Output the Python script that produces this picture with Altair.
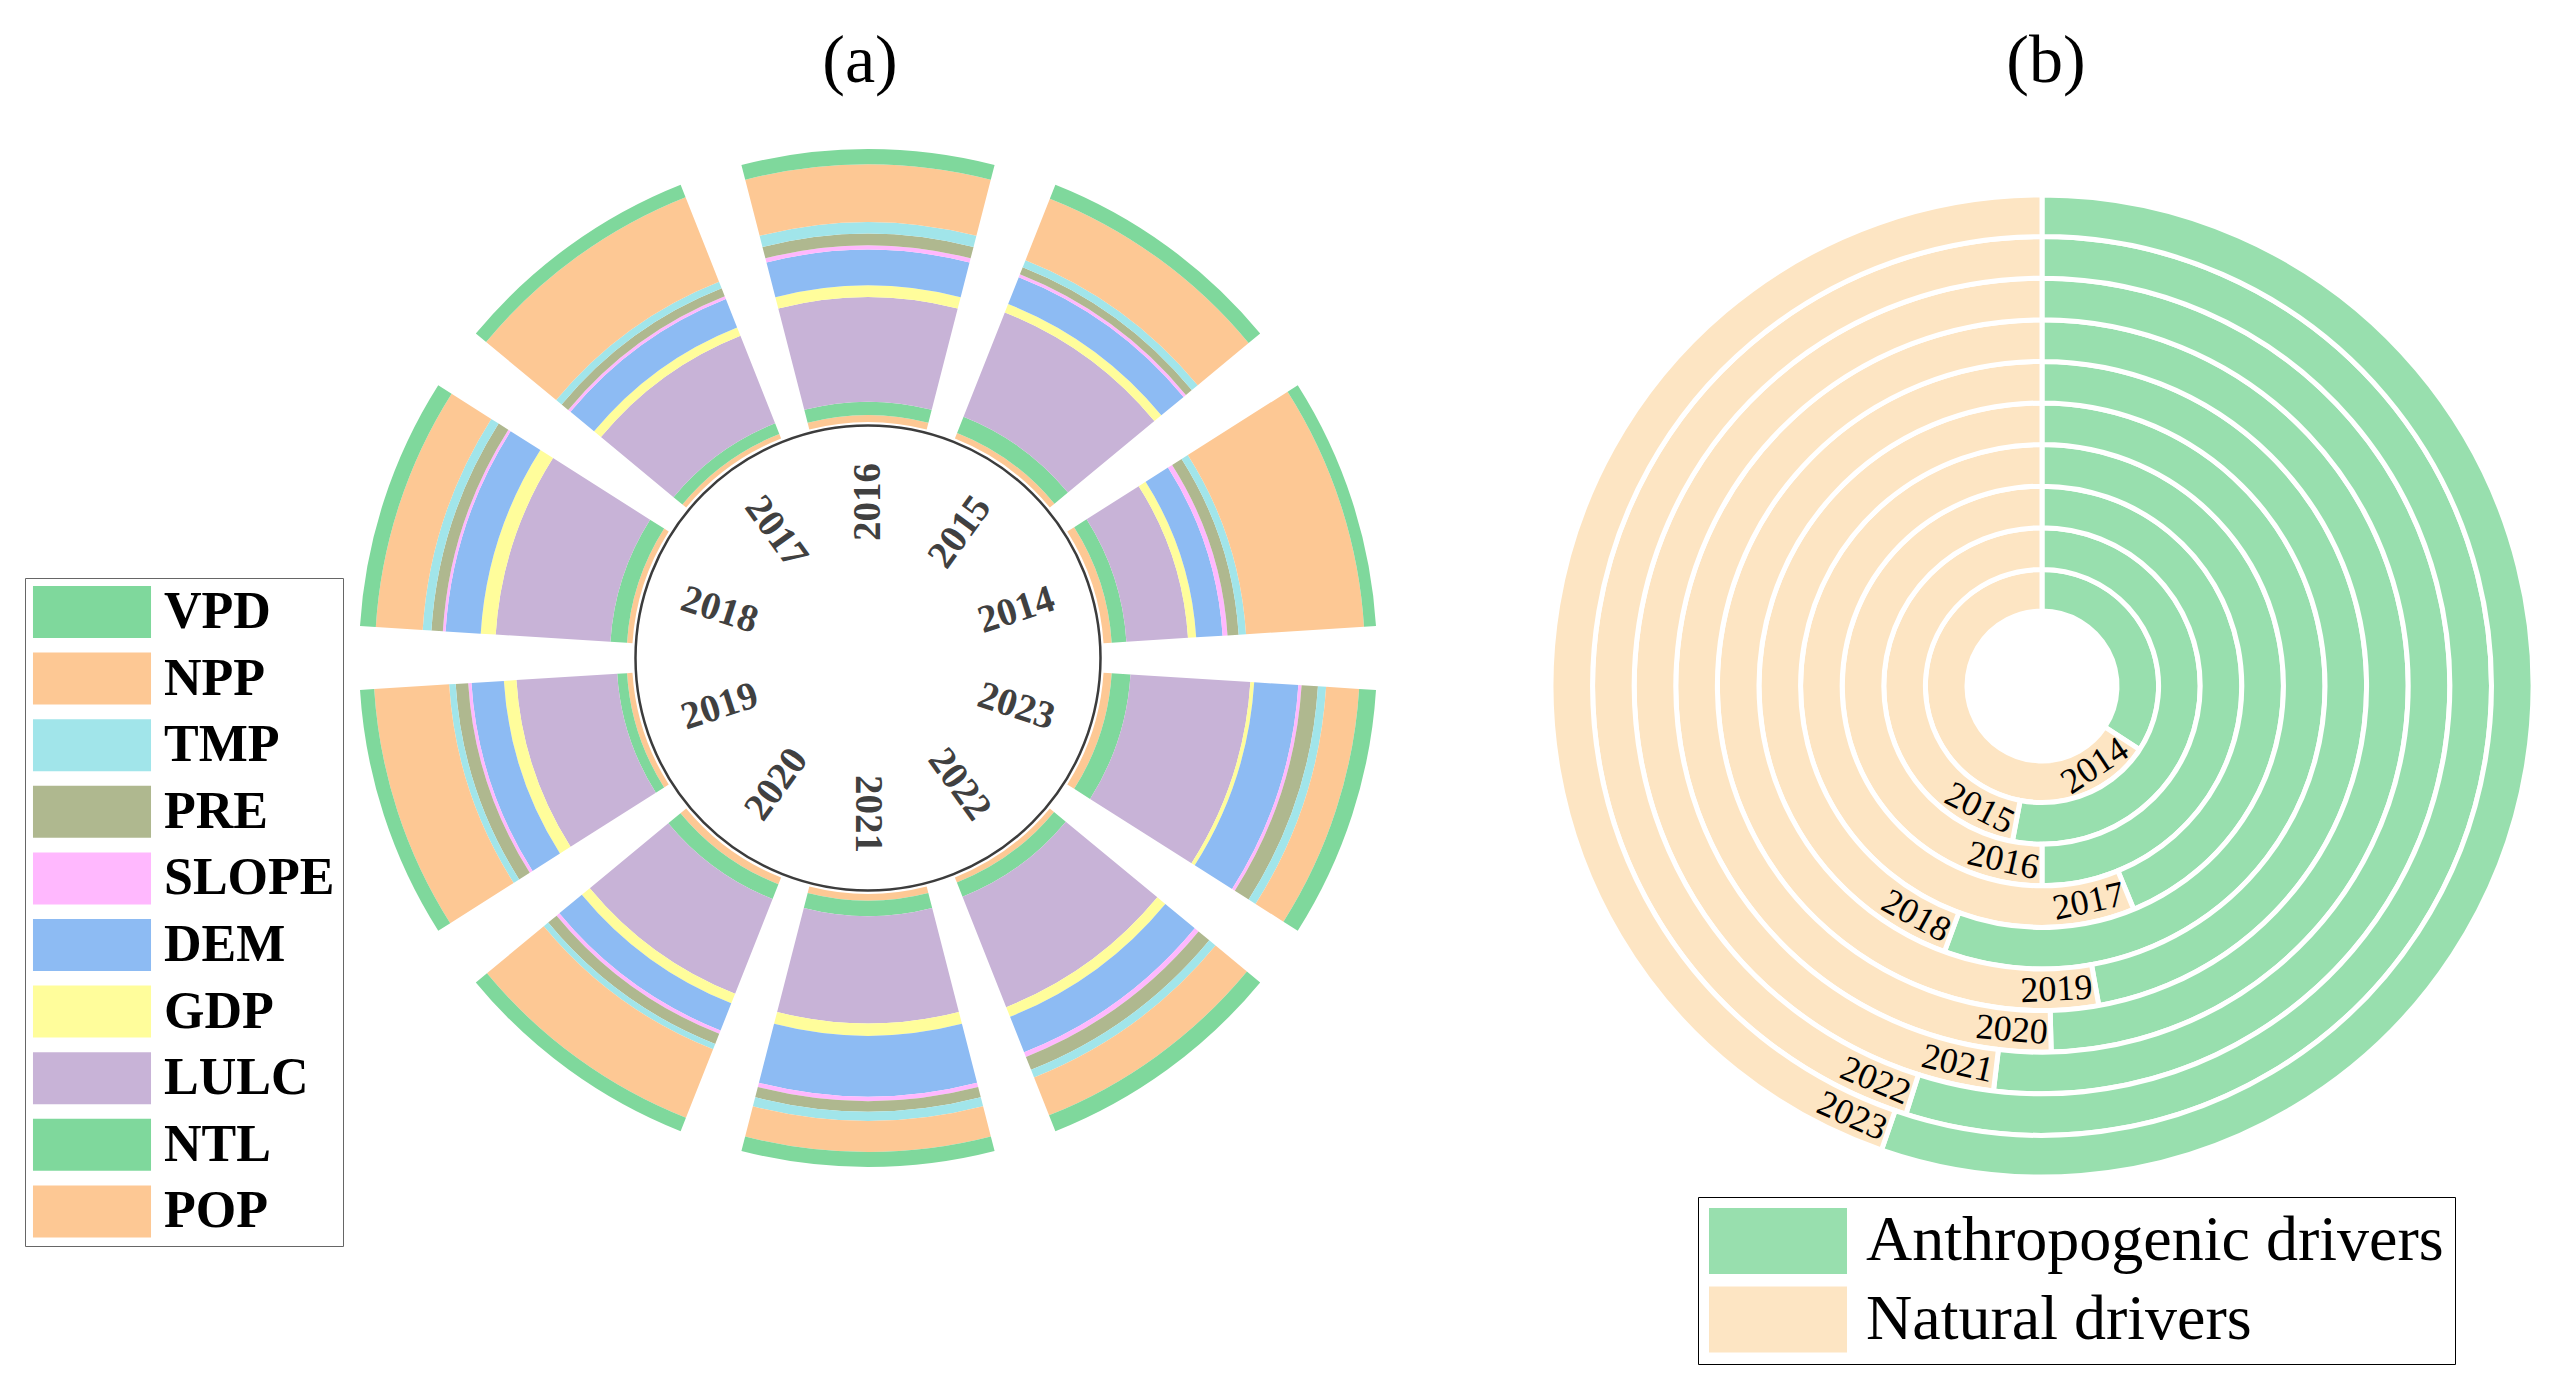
import math
import altair as alt
import pandas as pd

# ---------------- data ----------------
years = [2014, 2015, 2016, 2017, 2018, 2019, 2020, 2021, 2022, 2023]
drivers_inner_to_outer = ["POP", "NTL", "LULC", "GDP", "DEM", "SLOPE", "PRE", "TMP", "NPP", "VPD"]
legend_order = ["VPD", "NPP", "TMP", "PRE", "SLOPE", "DEM", "GDP", "LULC", "NTL", "POP"]

POP = [3.0, 2.2, 2.5, 1.8, 2.0, 2.0, 2.7, 2.4, 2.0, 3.0]
NTL = [5.4, 6.4, 4.9, 4.2, 6.1, 3.6, 5.8, 5.7, 5.6, 6.9]
LULC = [22.6, 41.1, 38.3, 34.5, 42.1, 37.0, 37.3, 39.3, 43.5, 44.0]
GDP = [3.0, 3.3, 4.3, 3.3, 5.5, 4.6, 3.8, 4.5, 3.8, 1.4]
DEM = [9.7, 10.6, 13.1, 11.2, 12.9, 11.9, 10.7, 22.3, 14.0, 16.2]
SLOPE = [1.8, 1.1, 1.6, 1.1, 1.0, 1.2, 1.3, 1.6, 1.8, 1.2]
PRE = [4.1, 2.8, 4.3, 3.1, 4.2, 4.6, 4.0, 3.9, 5.1, 6.0]
TMP = [2.7, 2.8, 4.2, 2.6, 3.2, 2.4, 2.1, 3.4, 3.0, 3.0]
NPP = [43.3, 24.2, 21.2, 33.3, 17.2, 27.5, 27.0, 11.4, 14.9, 12.1]
VPD = [4.4, 5.5, 5.6, 4.9, 5.8, 5.2, 5.3, 5.5, 6.3, 6.2]

driver_colors = ["#7fd89c", "#fdc894", "#a1e5ea", "#afb88f", "#ffb8fe",
                 "#8dbbf3", "#fffd9b", "#c8b3d7", "#7fd89c", "#fdc894"]  # legend_order

anthro_share = [34.2, 53.0, 50.0, 43.8, 55.6, 47.2, 49.6, 51.9, 54.9, 55.3]
ring_types = ["Anthropogenic drivers", "Natural drivers"]
type_colors = ["#98dfae", "#fde5c3"]
panel_titles = ["(a)", "(b)"]

# ---------------- layout constants ----------------
CXA, CYA = 860, 650      # centre of panel (a) in plot coords
CXB, CYB = 2034, 678     # centre of panel (b)
R_A = [236, 509]
R_B = [75, 491]
SECTOR = 36.0
SECTOR_FILL = 28.8
FONT = "Liberation Serif"

vals = dict(POP=POP, NTL=NTL, LULC=LULC, GDP=GDP, DEM=DEM, SLOPE=SLOPE,
            PRE=PRE, TMP=TMP, NPP=NPP, VPD=VPD)

rows_a, rows_la = [], []
for i, y in enumerate(years):
    c = (72 - SECTOR * i) % 360
    cum = 0.0
    for d in drivers_inner_to_outer:
        v = vals[d][i]
        rows_a.append(dict(year=str(y), driver=d, value=v, r0=cum, r1=cum + v,
                           t0=c - SECTOR_FILL / 2, t1=c + SECTOR_FILL / 2))
        cum += v
    rot = (c - 90) if c <= 180 else (c - 270)
    rows_la.append(dict(label=str(y), c=c, rot=rot % 360))
df_a = pd.DataFrame(rows_a)
df_la = pd.DataFrame(rows_la)

rows_b, rows_lb = [], []
for i, y in enumerate(years):
    end = anthro_share[i] * 3.6
    rows_b.append(dict(year=str(y), kind=ring_types[0], t0=0.0, t1=end, r0=i, r1=i + 1))
    rows_b.append(dict(year=str(y), kind=ring_types[1], t0=end, t1=360.0, r0=i, r1=i + 1))
    rpix = R_B[0] + (R_B[1] - R_B[0]) * (i + 0.5) / 10
    tc = end + math.degrees(39.0 / rpix)
    rows_lb.append(dict(label=str(y), tc=tc, rm=i + 0.5, rot=(tc - 180) % 360))
df_b = pd.DataFrame(rows_b)
df_lb = pd.DataFrame(rows_lb)

TH = alt.Scale(domain=[0, 360], range=[0, 2 * math.pi])

# ---------------- panel (a) ----------------
circle = alt.Chart(pd.DataFrame({"t0": [0.0], "t1": [360.0]})).mark_arc(
    radius=232.5, radius2=0, fill="white", stroke="#3c3c3c", strokeWidth=2.5
).encode(
    theta=alt.Theta("t0:Q", scale=TH, stack=None), theta2="t1:Q",
    x=alt.value(CXA), y=alt.value(CYA),
)

path_a = "M-2.27,-1L2.27,-1L2.27,1L-2.27,1Z"
arcs_a = alt.Chart(df_a).mark_arc().encode(
    theta=alt.Theta("t0:Q", scale=TH, stack=None), theta2="t1:Q",
    radius=alt.Radius("r0:Q", scale=alt.Scale(type="linear", domain=[0, 100], range=R_A), stack=None),
    radius2="r1:Q",
    color=alt.Color("driver:N", scale=alt.Scale(domain=legend_order, range=driver_colors),
                    legend=alt.Legend(title=None, orient="none", legendX=17, legendY=570,
                                      symbolType=path_a, symbolSize=52 * 52, symbolOffset=33,
                                      symbolStrokeWidth=0, symbolOpacity=1,
                                      labelOffset=46, labelFont=FONT, labelFontWeight="bold",
                                      labelFontSize=52, labelColor="black", labelLimit=1000,
                                      rowPadding=14.6, padding=8, strokeColor="#666666",
                                      fillColor="white")),
    x=alt.value(CXA), y=alt.value(CYA),
)

labels_a = alt.Chart(df_la).mark_text(
    radius=156, font=FONT, fontWeight="bold", fontSize=39, color="#404040",
    align="center", baseline="middle"
).encode(
    theta=alt.Theta("c:Q", scale=TH, stack=None),
    text="label:N", angle=alt.Angle("rot:Q", scale=None),
    x=alt.value(CXA), y=alt.value(CYA),
)

# ---------------- panel (b) ----------------
path_b = "M-2.091,-1L2.091,-1L2.091,1L-2.091,1Z"
RB = alt.Scale(type="linear", domain=[0, 10], range=R_B)
arcs_b = alt.Chart(df_b).mark_arc(stroke="white", strokeWidth=5).encode(
    theta=alt.Theta("t0:Q", scale=TH, stack=None), theta2="t1:Q",
    radius=alt.Radius("r0:Q", scale=RB, stack=None), radius2="r1:Q",
    color=alt.Color("kind:N", scale=alt.Scale(domain=ring_types, range=type_colors),
                    legend=alt.Legend(title=None, orient="none", legendX=1690, legendY=1189,
                                      symbolType=path_b, symbolSize=66 * 66, symbolOffset=36,
                                      symbolStrokeWidth=0, symbolOpacity=1,
                                      labelOffset=55, labelFont=FONT, labelFontSize=64,
                                      labelColor="black", labelLimit=1000,
                                      rowPadding=12.6, padding=11, strokeColor="black",
                                      fillColor="white")),
    x=alt.value(CXB), y=alt.value(CYB),
)

labels_b = alt.Chart(df_lb).mark_text(
    font=FONT, fontSize=36, color="black", align="center", baseline="middle"
).encode(
    theta=alt.Theta("tc:Q", scale=TH, stack=None),
    radius=alt.Radius("rm:Q", scale=RB, stack=None),
    text="label:N", angle=alt.Angle("rot:Q", scale=None),
    x=alt.value(CXB), y=alt.value(CYB),
)

# ---------------- titles ----------------
title_a = alt.Chart(pd.DataFrame({"t": [panel_titles[0]]})).mark_text(
    font=FONT, fontSize=68, color="black", baseline="middle", align="center"
).encode(text="t:N", x=alt.value(852), y=alt.value(54))
title_b = alt.Chart(pd.DataFrame({"t": [panel_titles[1]]})).mark_text(
    font=FONT, fontSize=68, color="black", baseline="middle", align="center"
).encode(text="t:N", x=alt.value(2038), y=alt.value(54))

chart = alt.layer(
    circle, arcs_a, labels_a, arcs_b, labels_b, title_a, title_b
).resolve_scale(
    theta="independent", radius="independent", color="independent"
).properties(
    width=2540, height=1370, autosize=alt.AutoSizeParams(type="none"),
    padding=0, background="white"
).configure_view(stroke=None)

chart.save("out.html", embed_options={"renderer": "svg", "actions": False})
